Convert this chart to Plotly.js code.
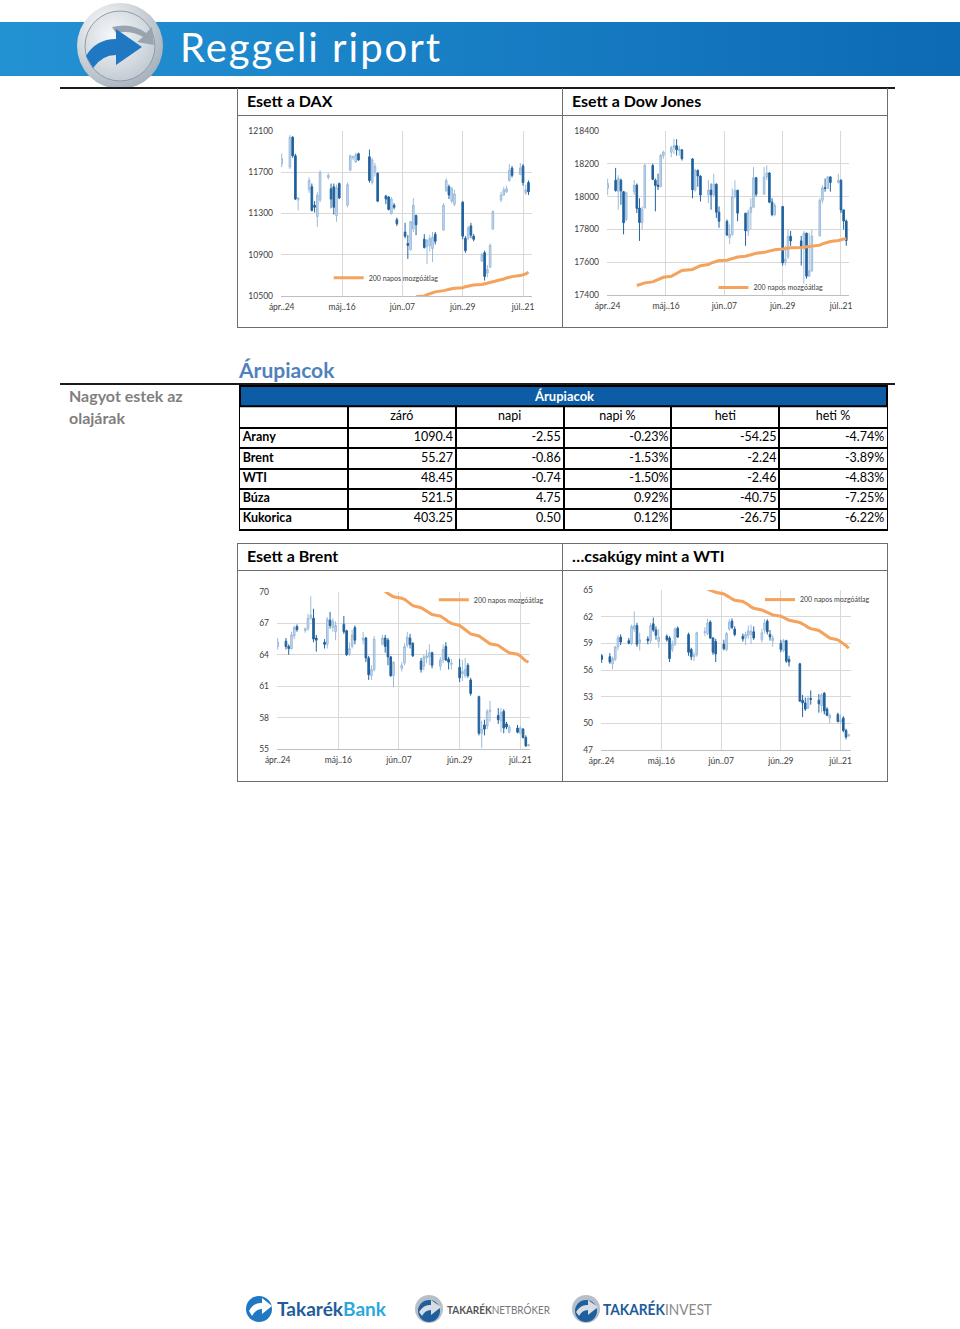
<!DOCTYPE html>
<html>
<head>
<meta charset="utf-8">
<script src="https://cdn.plot.ly/plotly-3.0.1.min.js"></script>
<style>
  body { margin: 0; background: #fff; font-family: Lato, "Open Sans", sans-serif; }
  #page { position: relative; width: 960px; height: 1329px; overflow: hidden; }
  .abs { position: absolute; }
  .box { position: absolute; box-sizing: border-box; border: 1px solid #6d6d6d; }
  .ttl { position: absolute; left: 0; top: 0; right: 0; height: 27px; line-height: 24px;
         padding-left: 9px; font-weight: bold; font-size: 16px; color: #000;
         border-bottom: 1px solid #6d6d6d; box-sizing: border-box; }
  .rule { position: absolute; height: 2px; background: #1a1a1a; }
</style>
</head>
<body>
<div id="page">

<svg class="abs" style="left:0;top:0" width="960" height="100">
  <defs>
    <linearGradient id="band" x1="0" x2="1" y1="0" y2="0">
      <stop offset="0" stop-color="#2392d3"/>
      <stop offset="1" stop-color="#0d6ab5"/>
    </linearGradient>
    <radialGradient id="ring" cx="0.35" cy="0.3" r="0.85">
      <stop offset="0" stop-color="#ffffff"/>
      <stop offset="1" stop-color="#9aa6b2"/>
    </radialGradient>
    <radialGradient id="disc" cx="0.4" cy="0.35" r="0.8">
      <stop offset="0" stop-color="#f6f8fa"/>
      <stop offset="1" stop-color="#b9c3cc"/>
    </radialGradient>
  </defs>
  <rect x="0" y="22" width="960" height="54" fill="url(#band)"/>
  <circle cx="120" cy="46" r="43" fill="url(#ring)"/>
  <circle cx="120" cy="46" r="35" fill="url(#disc)" stroke="#8f9ba7" stroke-width="1"/>
  <path d="M112,27 Q132,22 146,33 L152,27 L154,45 L137,42 L143,37 Q131,30 116,33 Z" fill="#9aa4ae"/>
  <path d="M86,56 Q96,39 116,39 L116,29 L142,47 L116,65 L116,55 Q102,55 93,68 Z" fill="#1f78c1"/>
  <text x="180" y="62" font-family="Lato" font-size="40" fill="#ffffff" textLength="260" lengthAdjust="spacing">Reggeli riport</text>
</svg>

<div class="rule" style="left:60px;top:87px;width:835px;"></div>

<div class="box" style="left:237px;top:88px;width:326px;height:240px;border-top:none;">
  <div class="ttl" style="top:1px;">Esett a DAX</div>
</div>
<div class="box" style="left:562px;top:88px;width:326px;height:240px;border-top:none;">
  <div class="ttl" style="top:1px;">Esett a Dow Jones</div>
</div>
<div id="dax" class="abs" style="left:238px;top:117px;width:323px;height:210px;"></div>
<div id="dow" class="abs" style="left:563px;top:117px;width:324px;height:210px;"></div>

<div class="abs" style="left:239px;top:356px;font-size:21px;font-weight:bold;color:#4f81bd;line-height:28px;">Árupiacok</div>
<div class="rule" style="left:60px;top:383px;width:835px;"></div>
<div class="abs" style="left:69px;top:385px;font-size:16px;font-weight:bold;color:#7f7f7f;line-height:22px;">Nagyot estek az<br>olajárak</div>
<div id="tbl" class="abs" style="left:239px;top:385px;width:649px;height:146px;"></div>

<div class="box" style="left:237px;top:543px;width:326px;height:239px;">
  <div class="ttl">Esett a Brent</div>
</div>
<div class="box" style="left:562px;top:543px;width:326px;height:239px;">
  <div class="ttl">…csakúgy mint a WTI</div>
</div>
<div id="brent" class="abs" style="left:238px;top:573px;width:323px;height:208px;"></div>
<div id="wti" class="abs" style="left:563px;top:573px;width:324px;height:208px;"></div>

<svg class="abs" style="left:0;top:1285px" width="960" height="44">
  <circle cx="259" cy="24" r="13" fill="#1f78c1"/>
  <path d="M249,26 Q254,17 262,18 L262,13 L272,21 L262,29 L262,24 Q256,24 252,31 Z" fill="#ffffff"/>
  <text x="277" y="31" font-family="Lato" font-weight="bold" font-size="19" textLength="109" lengthAdjust="spacingAndGlyphs"><tspan fill="#1e5c9a">Takarék</tspan><tspan fill="#2aa8dc">Bank</tspan></text>

  <circle cx="429" cy="24" r="14" fill="#b7c0c8"/>
  <circle cx="429" cy="26" r="11" fill="#1f5f9e"/>
  <path d="M419,27 Q424,19 431,20 L431,15 L441,22 L431,30 L431,25 Q425,25 422,31 Z" fill="#d7dde3"/>
  <text x="447" y="29" font-family="Lato" font-size="12" textLength="103" lengthAdjust="spacingAndGlyphs"><tspan font-weight="bold" fill="#555">TAKARÉK</tspan><tspan fill="#777">NETBRÓKER</tspan></text>

  <circle cx="586" cy="24" r="14" fill="#b7c0c8"/>
  <circle cx="586" cy="26" r="11" fill="#1f5f9e"/>
  <path d="M576,27 Q581,19 588,20 L588,15 L598,22 L588,30 L588,25 Q582,25 579,31 Z" fill="#d7dde3"/>
  <text x="603" y="30" font-family="Lato" font-size="16" textLength="109" lengthAdjust="spacingAndGlyphs"><tspan font-weight="bold" fill="#1e5c9a">TAKARÉK</tspan><tspan fill="#8a8a8a">INVEST</tspan></text>
</svg>

</div>

<script>
// trading days, 2015-04-24 .. 2015-07-24
var days = [
  '2015-04-24',
  '2015-04-27','2015-04-28','2015-04-29','2015-04-30','2015-05-01',
  '2015-05-04','2015-05-05','2015-05-06','2015-05-07','2015-05-08',
  '2015-05-11','2015-05-12','2015-05-13','2015-05-14','2015-05-15',
  '2015-05-18','2015-05-19','2015-05-20','2015-05-21','2015-05-22',
  '2015-05-25','2015-05-26','2015-05-27','2015-05-28','2015-05-29',
  '2015-06-01','2015-06-02','2015-06-03','2015-06-04','2015-06-05',
  '2015-06-08','2015-06-09','2015-06-10','2015-06-11','2015-06-12',
  '2015-06-15','2015-06-16','2015-06-17','2015-06-18','2015-06-19',
  '2015-06-22','2015-06-23','2015-06-24','2015-06-25','2015-06-26',
  '2015-06-29','2015-06-30','2015-07-01','2015-07-02','2015-07-03',
  '2015-07-06','2015-07-07','2015-07-08','2015-07-09','2015-07-10',
  '2015-07-13','2015-07-14','2015-07-15','2015-07-16','2015-07-17',
  '2015-07-20','2015-07-21','2015-07-22','2015-07-23','2015-07-24'
];
var tickDays = ['2015-04-24','2015-05-16','2015-06-07','2015-06-29','2015-07-21'];
var tickLabels = ['ápr..24','máj..16','jún..07','jún..29','júl..21'];

// DAX
var daxO = [11782, 11750,12040,11860,11430,null, 11530,11560,11380,11270,11430, 11650,11540,11560,11280,11590,
  11380,11720,11840,11800,11880, null,11850,11600,11700,11690, 11470,11460,11300,11380,11240,
  11120,11010,10950,11150,11280, 11050,10980,10990,10960,11100, 11140,11520,11560,11420,11390,
  11410,11060,11060,11180,11080, 10840,10920,10720,10780,11150, 11430,11480,11510,11620,11740,
  11680,11760,11500,11600,null];
var daxH = [11880, 12060,12050,11880,11460,null, 11650,11590,11420,11510,11720, 11690,11590,11590,11580,11600,
  11600,11870,11860,11890,11890, null,11920,11840,11790,11700, 11480,11470,11460,11400,11260,
  11210,11090,11230,11450,11290, 11100,11050,11090,11120,11120, 11400,11640,11580,11560,11530,
  11420,11080,11180,11210,11100, 10920,10940,10800,11010,11330, 11510,11560,11570,11780,11760,
  11790,11780,11580,11620,null];
var daxL = [11750, 11730,11840,11430,11330,null, 11500,11320,11310,11170,11410, 11630,11350,11290,11220,11440,
  11360,11710,11820,11790,11810, null,11600,11580,11660,11410, 11390,11330,11290,11340,11180,
  11060,10860,10940,11120,11090, 10960,10810,10930,10830,11000, 11130,11510,11440,11400,11370,
  11050,10920,11040,11060,11030, 10830,10650,10680,10770,11140, 11410,11470,11500,11610,11650,
  11670,11570,11480,11480,null];
var daxC = [11831, 12040,11860,11440,11450,null, 11620,11330,11360,11480,11700, 11670,11440,11360,11550,11450,
  11580,11860,11850,11870,11820, null,11620,11820,11760,11420, 11440,11340,11440,11360,11200,
  11080,10990,11220,11380,11190, 10970,11040,11060,11070,11030, 11380,11620,11480,11540,11490,
  11080,10940,11160,11090,11050, 10900,10690,10760,10990,11320, 11480,11530,11540,11720,11670,
  11740,11600,11530,11510,null];
var daxMA = [null, null,null,null,null,null, null,null,null,null,null, null,null,null,null,null,
  null,null,null,null,null, null,null,null,null,null, null,null,null,null,null,
  null,null,null,null,10492, 10500,10512,10522,10530,10540, 10552,10560,10568,10570,10575,
  10580,10590,10596,10600,10606, 10612,10618,10625,10632,10640, 10655,10665,10675,10682,10688,
  10698,10705,10715,10730,null];

// Dow Jones
var dowO = [18050, 18100,18030,18100,18030,17860, 18030,18070,17930,17840,17930, 18190,18100,18070,18060,18250,
  18270,18300,18310,18280,18285, null,18230,18040,18160,18125, 18010,18040,18010,18076,17905,
  17849,17750,17770,18000,18039, 17899,17790,17904,17935,18115, 18015,18119,18144,17966,17890,
  17940,17600,17630,17758,null, 17730,17684,17777,17515,17548, 17760,17977,18054,18050,18120,
  18086,18100,17919,17851,null];
var dowH = [18110, 18175,18130,18110,18035,18030, 18100,18080,17990,17940,18200, 18200,18110,18140,18260,18280,
  18310,18351,18350,18310,18290, null,18235,18170,18165,18130, 18100,18080,18140,18080,17940,
  17860,17830,18050,18100,18040, 17900,17920,17990,18180,18120, 18180,18190,18150,17990,17960,
  17940,17700,17800,17790,null, 17760,17790,17780,17780,17800, 17990,18070,18110,18125,18125,
  18140,18105,17920,17860,null];
var dowL = [18010, 18030,17920,17950,17770,17850, 18010,17900,17730,17800,17930, 18100,17910,18040,18060,18230,
  18240,18260,18250,18250,18220, null,17990,18030,18060,17970, 17960,17920,18000,17870,17810,
  17760,17710,17760,17990,17850, 17700,17760,17800,17930,18000, 18010,18100,17960,17880,17880,
  17580,17580,17620,17700,null, 17580,17470,17500,17510,17540, 17760,17960,18030,18050,18030,
  18080,17900,17800,17700,null];
var dowC = [18080, 18037,18110,18035,17840,18024, 18070,17928,17842,17924,18191, 18105,18068,18060,18252,18272,
  18298,18312,18285,18290,18232, null,18041,18162,18126,18010, 18040,18011,18076,17905,17849,
  17766,17770,18000,18039,17899, 17791,17904,17935,18115,18015, 18119,18144,17966,17890,17947,
  17596,17620,17758,17730,null, 17684,17777,17515,17548,17760, 17977,18054,18050,18120,18086,
  18100,17919,17851,17732,null];
var dowMA = [null, null,null,null,null,null, null,17458,17462,17468,17474, 17480,17486,17494,17502,17508,
  17514,17524,17534,17545,17550, null,17556,17566,17572,17578, 17586,17594,17600,17606,17610,
  17612,17618,17624,17630,17632, 17636,17640,17646,17652,17654, 17660,17664,17670,17674,17676,
  17680,17684,17686,17688,null, 17690,17692,17694,17696,17698, 17704,17712,17718,17724,17726,
  17732,17736,17740,17745,null];

// Brent
var brentO = [64.8, 65.3,64.8,64.6,65.8,66.7, 66.3,66.5,67.5,67.5,65.6, 65.2,65.0,67.3,66.6,66.2,
  66.9,66.3,64.1,64.8,66.6, 65.4,65.6,63.7,62.0,62.6, 65.0,65.6,65.4,63.8,62.0,
  62.7,63.2,64.9,65.6,65.1, 63.4,62.9,63.7,63.8,64.2, 62.9,63.5,64.8,63.6,63.1,
  62.8,62.2,62.0,63.0,61.6, 60.0,56.5,57.3,57.2,58.6, 58.2,57.7,58.6,57.4,56.6,
  57.0,56.5,56.9,56.1,55.3];
var brentH = [65.6, 65.6,65.0,66.2,66.8,66.9, 66.6,67.9,69.6,68.4,65.9, 65.5,67.6,68.1,67.5,67.2,
  67.7,66.4,65.2,66.4,66.8, 66.2,65.7,63.9,63.0,65.8, 65.9,65.9,65.6,63.9,63.4,
  63.3,65.1,66.2,66.0,65.2, 63.7,64.0,64.5,65.0,64.3, 63.8,65.0,65.2,63.8,63.6,
  63.6,63.5,63.7,63.2,61.8, 60.1,57.7,57.8,58.8,59.6, 58.9,58.9,58.8,57.6,57.3,
  57.3,57.2,57.0,56.3,55.5];
var brentL = [64.5, 64.5,64.0,64.5,65.5,66.2, 66.1,66.3,67.3,65.2,64.3, 64.6,64.6,66.5,66.2,65.4,
  66.0,63.9,63.9,64.6,65.0, 65.0,63.3,61.6,61.6,62.4, 64.9,64.2,63.0,61.9,60.9,
  62.4,63.0,64.7,64.6,63.8, 62.3,62.5,63.2,63.0,62.7, 62.5,63.2,63.4,62.6,62.6,
  61.4,61.5,61.8,61.8,60.1, 56.3,55.1,56.3,56.9,57.6, 57.4,56.6,56.5,56.9,56.5,
  56.5,56.4,56.0,55.2,55.3];
var brentC = [65.2, 64.8,64.6,65.9,66.6,66.4, 66.5,67.5,67.8,65.5,65.4, 65.0,67.4,66.8,67.2,66.8,
  66.2,64.0,64.6,65.9,65.4, 65.6,63.7,62.1,62.6,65.5, 65.6,64.8,63.8,62.0,63.3,
  63.0,64.8,65.7,65.0,63.9, 62.6,63.8,63.9,64.2,63.0, 63.5,64.5,63.5,63.3,63.2,
  61.8,62.4,62.6,62.0,60.3, 56.5,56.9,56.9,58.6,58.7, 57.8,58.5,57.0,57.1,57.1,
  56.6,57.0,56.1,55.3,55.4];
var brentMA = [null, null,null,null,null,null, null,null,null,null,null, null,null,null,null,null,
  null,null,null,null,null, null,null,null,null,null, 70.3,70.05,69.85,69.7,69.55,
  69.4,69.3,69.1,68.9,68.7, 68.5,68.35,68.2,68.0,67.85, 67.7,67.55,67.35,67.15,67.0,
  66.8,66.6,66.4,66.2,66.0, 65.8,65.6,65.4,65.2,65.05, 64.9,64.7,64.5,64.35,64.2,
  64.05,63.9,63.6,63.4,63.3];

// WTI
var wtiO = [57.6, 57.5,56.7,57.2,58.6,59.7, 59.3,59.0,60.6,61.0,59.1, 59.5,59.3,61.2,60.5,59.2,
  59.8,59.6,58.3,58.9,60.7, null,60.0,58.3,57.5,57.7, 60.2,60.1,61.4,59.6,59.2,
  58.9,58.3,60.6,61.5,60.6, 59.8,59.6,59.9,60.0,60.3, 59.4,60.5,61.5,60.0,59.3,
  59.0,58.2,59.3,57.2,null, 56.7,52.6,52.3,51.7,52.8, 52.6,52.0,53.4,51.6,50.6,
  51.0,50.2,50.6,49.2,48.6];
var wtiH = [57.8, 57.9,57.5,58.7,59.9,60.0, 59.6,61.1,62.6,61.3,60.2, 59.8,61.3,61.9,60.9,60.6,
  60.0,59.8,59.3,60.8,60.9, null,60.2,58.5,58.0,60.3, 60.8,61.8,61.6,59.7,59.5,
  59.4,60.3,61.7,61.8,60.9, 60.1,60.3,61.0,61.1,60.9, 60.6,61.7,61.7,60.5,59.9,
  59.4,59.5,59.4,57.6,null, 56.8,53.2,52.9,53.1,53.7, 53.3,53.4,53.5,51.8,51.1,
  51.2,51.0,50.8,49.4,48.8];
var wtiL = [56.8, 56.7,56.1,57.0,58.2,58.8, 58.9,58.8,60.3,58.6,58.2, 58.9,59.0,60.3,59.4,58.5,
  59.2,56.9,58.0,58.7,59.6, null,57.6,57.1,57.0,57.5, 59.8,59.9,59.5,57.7,56.9,
  58.2,58.1,60.4,60.6,59.8, 59.2,58.8,59.5,58.9,59.4, 59.1,60.1,60.0,59.3,58.6,
  58.0,58.0,56.8,56.4,null, 52.4,50.7,51.4,51.6,52.1, 51.2,51.2,51.0,50.8,50.0,
  50.1,49.9,49.0,48.2,48.5];
var wtiC = [57.2, 56.9,57.3,58.6,59.6,59.15, 59.0,60.9,61.0,58.9,59.4, 59.3,61.0,60.5,59.9,59.7,
  59.4,57.3,58.9,60.6,59.7, null,58.0,57.5,57.7,60.2, 60.3,61.3,59.6,58.0,57.8,
  58.4,60.1,61.4,60.8,60.0, 59.5,60.0,60.4,60.4,59.6, 60.2,61.3,60.3,59.7,59.6,
  58.3,59.3,57.0,56.9,null, 52.5,52.3,51.6,52.8,52.7, 52.2,53.2,51.4,50.9,50.9,
  50.2,50.4,49.2,48.45,48.7];
var wtiMA = [null, null,null,null,null,null, null,null,null,null,null, null,null,null,null,null,
  null,null,null,null,null, null,null,null,null,null, null,65.1,65.0,64.9,64.75,
  64.55,64.4,64.2,64.0,63.85, 63.7,63.55,63.35,63.1,62.95, 62.75,62.6,62.45,62.3,62.2,
  62.05,61.9,61.7,61.6,null, 61.35,61.2,61.0,60.8,60.65, 60.45,60.25,60.0,59.85,59.6,
  59.4,59.2,59.0,58.75,58.45];

// commodity table
var tblTitle = 'Árupiacok';
var tblHead = ['', 'záró', 'napi', 'napi %', 'heti', 'heti %'];
var tblNames = ['Arany', 'Brent', 'WTI', 'Búza', 'Kukorica'];
var tblZaro = ['1090.4', '55.27', '48.45', '521.5', '403.25'];
var tblNapi = ['-2.55', '-0.86', '-0.74', '4.75', '0.50'];
var tblNapiPct = ['-0.23%', '-1.53%', '-1.50%', '0.92%', '0.12%'];
var tblHeti = ['-54.25', '-2.24', '-2.46', '-40.75', '-26.75'];
var tblHetiPct = ['-4.74%', '-3.89%', '-4.83%', '-7.25%', '-6.22%'];

var tickFont = {family: 'Lato', size: 8.5, color: '#404040'};

function drawStock(id, o, h, l, c, ma, opt) {
  var candles = {
    type: 'candlestick', x: days, open: o, high: h, low: l, close: c,
    showlegend: false, hoverinfo: 'skip', whiskerwidth: 0,
    increasing: {line: {color: '#9cbcdc', width: 1}, fillcolor: '#c8dbee'},
    decreasing: {line: {color: '#24649f', width: 1}, fillcolor: '#1d5d9a'}
  };
  var avg = {
    type: 'scatter', mode: 'lines', x: days, y: ma, connectgaps: true,
    name: '200 napos mozgóátlag', hoverinfo: 'skip',
    line: {color: '#f4a25c', width: 3}
  };
  var layout = {
    width: opt.w, height: opt.h,
    margin: opt.m,
    paper_bgcolor: 'rgba(0,0,0,0)', plot_bgcolor: 'rgba(0,0,0,0)',
    boxgap: 0.15,
    showlegend: true,
    legend: {x: opt.lx, y: opt.ly, xanchor: 'left', yanchor: 'middle',
             bgcolor: 'rgba(0,0,0,0)', font: {family: 'Lato', size: 7, color: '#404040'},
             itemwidth: 30},
    xaxis: {
      type: 'date', range: opt.xr, tickvals: tickDays, ticktext: tickLabels,
      showgrid: true, gridcolor: '#d9d9d9', gridwidth: 1,
      showline: true, linecolor: '#bfbfbf', linewidth: 1, ticks: '',
      tickfont: tickFont, ticklabelstandoff: 3,
      rangeslider: {visible: false}, fixedrange: true
    },
    yaxis: {
      range: opt.yr, tickmode: 'linear', tick0: opt.yr[0], dtick: opt.dt, tickformat: 'd',
      showgrid: true, gridcolor: '#d9d9d9', gridwidth: 1, zeroline: false,
      showline: false, ticks: '', tickfont: tickFont, ticklabelstandoff: 7,
      fixedrange: true
    }
  };
  Plotly.newPlot(id, [candles, avg], layout, {staticPlot: true, displayModeBar: false});
}

drawStock('dax', daxO, daxH, daxL, daxC, daxMA, {
  w: 323, h: 210, m: {l: 43, r: 29, t: 14, b: 31},
  xr: ['2015-04-23 18:00', '2015-07-24 06:40'], yr: [10500, 12100], dt: 400,
  lx: 0.19, ly: 0.11
});
drawStock('dow', dowO, dowH, dowL, dowC, dowMA, {
  w: 324, h: 210, m: {l: 44, r: 38, t: 14, b: 32},
  xr: ['2015-04-23 18:00', '2015-07-24 00:30'], yr: [17400, 18400], dt: 200,
  lx: 0.44, ly: 0.045
});
drawStock('brent', brentO, brentH, brentL, brentC, brentMA, {
  w: 323, h: 208, m: {l: 39, r: 31, t: 13, b: 32},
  xr: ['2015-04-23 18:00', '2015-07-24 12:30'], yr: [55, 70], dt: 3,
  lx: 0.62, ly: 0.95
});
drawStock('wti', wtiO, wtiH, wtiL, wtiC, wtiMA, {
  w: 324, h: 208, m: {l: 38, r: 32, t: 13, b: 31},
  xr: ['2015-04-23 18:00', '2015-07-24 20:00'], yr: [47, 65], dt: 3,
  lx: 0.636, ly: 0.94
});

// table drawn on a grid: one x unit per column, one y unit per data row
var cellFont = {family: 'Lato', size: 12.5, color: '#000'};
var pad = 0.025;       // inner cell padding, in column units
var headH = 1.1;       // column header row is a little taller
var nCols = tblHead.length;
var yEnd = 1 + headH + tblNames.length;
var rowMid = tblNames.map(function (n, i) { return 1 + headH + i + 0.5; });
var tblTraces = [{
  type: 'scatter', mode: 'text', cliponaxis: false, hoverinfo: 'skip',
  x: tblHead.map(function (h, i) { return i + 0.5; }),
  y: tblHead.map(function () { return 1 + headH / 2; }),
  text: tblHead, textposition: 'middle center', textfont: cellFont
}, {
  type: 'scatter', mode: 'text', cliponaxis: false, hoverinfo: 'skip',
  x: tblNames.map(function () { return pad; }), y: rowMid,
  text: tblNames.map(function (n) { return '<b>' + n + '</b>'; }),
  textposition: 'middle right', textfont: cellFont
}];
[tblZaro, tblNapi, tblNapiPct, tblHeti, tblHetiPct].forEach(function (col, k) {
  tblTraces.push({
    type: 'scatter', mode: 'text', cliponaxis: false, hoverinfo: 'skip',
    x: col.map(function () { return k + 2 - pad; }), y: rowMid,
    text: col, textposition: 'middle left', textfont: cellFont
  });
});
var gridX = tblHead.map(function (h, i) { return i; });
var gridY = [1].concat(tblNames.map(function (n, i) { return 1 + headH + i; }));
Plotly.newPlot('tbl', tblTraces, {
  width: 649, height: 146, margin: {l: 1, r: 1, t: 1, b: 2},
  paper_bgcolor: 'rgba(0,0,0,0)', plot_bgcolor: '#ffffff', showlegend: false,
  xaxis: {range: [0, nCols], tickvals: gridX, showticklabels: false, ticks: '',
          showgrid: true, gridcolor: '#000', gridwidth: 2, zeroline: false,
          showline: true, mirror: true, linecolor: '#000', linewidth: 2, fixedrange: true},
  yaxis: {range: [yEnd, 0], tickvals: gridY, showticklabels: false, ticks: '',
          showgrid: true, gridcolor: '#000', gridwidth: 2, zeroline: false,
          showline: true, mirror: true, linecolor: '#000', linewidth: 2, fixedrange: true},
  shapes: [{type: 'rect', xref: 'x', yref: 'y', x0: 0, x1: nCols, y0: 0, y1: 1, layer: 'above',
            fillcolor: '#0d5ca6', line: {color: '#000', width: 2}}],
  annotations: [{xref: 'x', yref: 'y', x: nCols / 2, y: 0.5, showarrow: false,
                 text: '<b>' + tblTitle + '</b>', font: {family: 'Lato', size: 13, color: '#ffffff'}}]
}, {staticPlot: true, displayModeBar: false});
</script>
</body>
</html>
